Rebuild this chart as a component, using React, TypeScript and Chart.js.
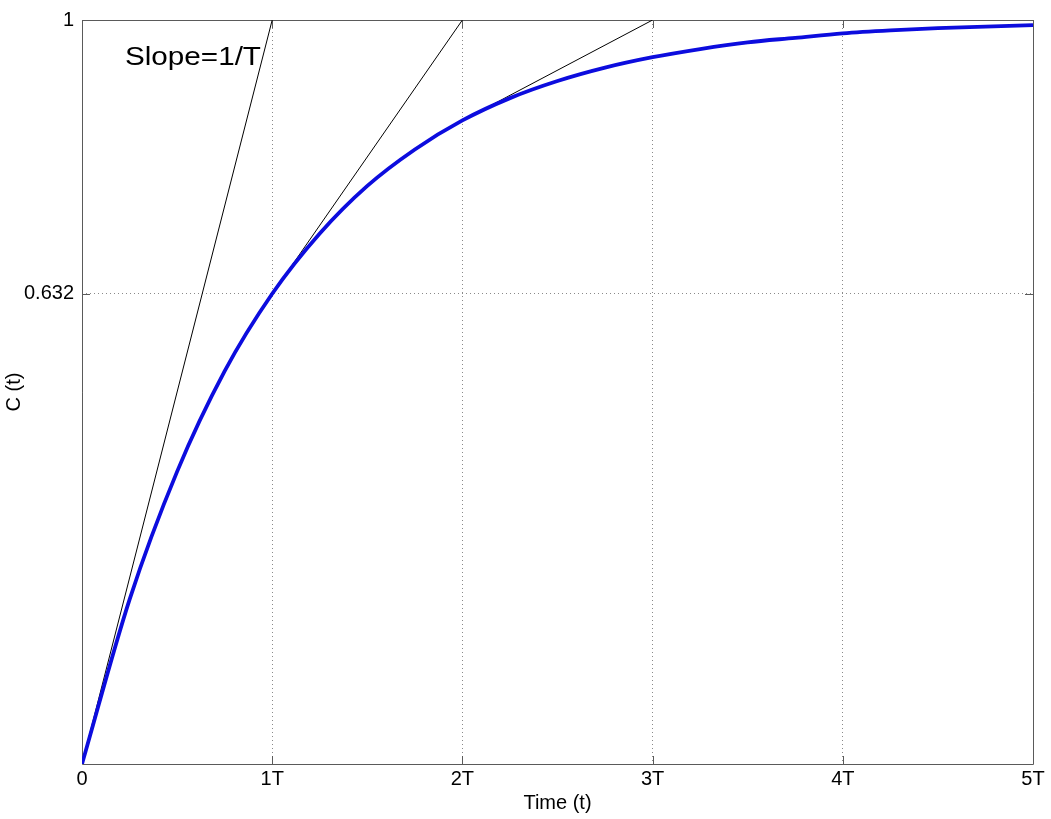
import React, { useEffect, useRef } from "react";
import { Chart, registerables } from "chart.js";

Chart.register(...registerables);

// Step response C(t), t in units of T
const timeT = [0, 0.25, 0.5, 0.75, 1, 1.25, 1.5, 1.75, 2, 2.25, 2.5, 2.75, 3, 3.25, 3.5, 3.75, 4, 4.25, 4.5, 4.75, 5];
const response = [0, 0.221, 0.393, 0.528, 0.632, 0.713, 0.777, 0.826, 0.865, 0.895, 0.918, 0.936, 0.95, 0.961, 0.97, 0.976, 0.982, 0.986, 0.989, 0.991, 0.993];

// Tangent lines (start and end points)
const tangent1X = [0, 1];
const tangent1Y = [0, 1];
const tangent2X = [1, 2];
const tangent2Y = [0.632, 1];
const tangent3X = [2, 3];
const tangent3Y = [0.865, 1];

const xTickValues = [0, 1, 2, 3, 4, 5];
const xTickLabels = ["0", "1T", "2T", "3T", "4T", "5T"];
const yTickValues = [0.632, 1];
const yTickLabels = ["0.632", "1"];

const annotationText = "Slope=1/T";
const annotationX = 0.226;
const annotationY = 0.94;

const FONT = "'Liberation Sans', Arial, Helvetica, sans-serif";

const zip = (xs: number[], ys: number[]) => xs.map((x, i) => ({ x, y: ys[i] }));

const boxPlugin = {
  id: "boxPlugin",
  beforeDatasetsDraw(chart: any) {
    const { ctx, chartArea: a, scales } = chart;
    const tickLen = 8;
    ctx.save();
    ctx.strokeStyle = "#5a5a5a";
    ctx.lineWidth = 1;
    ctx.beginPath();
    ctx.rect(Math.round(a.left) + 0.5, Math.round(a.top) + 0.5, Math.round(a.right - a.left), Math.round(a.bottom - a.top));
    ctx.stroke();
    ctx.beginPath();
    xTickValues.forEach((v) => {
      const px = Math.round(scales.x.getPixelForValue(v)) + 0.5;
      ctx.moveTo(px, a.bottom);
      ctx.lineTo(px, a.bottom - tickLen);
      ctx.moveTo(px, a.top);
      ctx.lineTo(px, a.top + tickLen);
    });
    yTickValues.forEach((v) => {
      const py = Math.round(scales.y.getPixelForValue(v)) + 0.5;
      ctx.moveTo(a.left, py);
      ctx.lineTo(a.left + tickLen, py);
      ctx.moveTo(a.right, py);
      ctx.lineTo(a.right - tickLen, py);
    });
    ctx.stroke();
    ctx.restore();
  },
  afterDatasetsDraw(chart: any) {
    const { ctx, scales } = chart;
    const px = scales.x.getPixelForValue(annotationX);
    const py = scales.y.getPixelForValue(annotationY);
    ctx.save();
    ctx.font = `25px ${FONT}`;
    ctx.fillStyle = "#000";
    ctx.textBaseline = "alphabetic";
    ctx.textAlign = "left";
    const w = ctx.measureText(annotationText).width;
    const target = 136;
    ctx.translate(px, py);
    ctx.scale(target / w, 1);
    ctx.fillText(annotationText, 0, 0);
    ctx.restore();
  },
};

export default function App() {
  const ref = useRef<HTMLCanvasElement | null>(null);

  useEffect(() => {
    if (!ref.current) return;
    const chart = new Chart(ref.current, {
      type: "line",
      data: {
        datasets: [
          {
            label: "C(t)",
            data: zip(timeT, response),
            borderColor: "rgb(12,12,222)",
            borderWidth: 3.8,
            pointRadius: 0,
            cubicInterpolationMode: "monotone",
            fill: false,
            order: 0,
          },
          {
            label: "tangent 1",
            data: zip(tangent1X, tangent1Y),
            borderColor: "#000",
            borderWidth: 1,
            pointRadius: 0,
            fill: false,
            order: 1,
          },
          {
            label: "tangent 2",
            data: zip(tangent2X, tangent2Y),
            borderColor: "#000",
            borderWidth: 1,
            pointRadius: 0,
            fill: false,
            order: 1,
          },
          {
            label: "tangent 3",
            data: zip(tangent3X, tangent3Y),
            borderColor: "#000",
            borderWidth: 1,
            pointRadius: 0,
            fill: false,
            order: 1,
          },
        ],
      },
      options: {
        animation: false,
        responsive: false,
        maintainAspectRatio: false,
        layout: { padding: { top: 16, right: 18, left: 0, bottom: 0 } },
        plugins: {
          legend: { display: false },
          tooltip: { enabled: false },
        },
        scales: {
          x: {
            type: "linear",
            min: 0,
            max: 5,
            afterBuildTicks: (scale: any) => {
              scale.ticks = xTickValues.map((value) => ({ value }));
            },
            afterFit: (scale: any) => {
              scale.height = 55;
            },
            ticks: {
              autoSkip: false,
              maxRotation: 0,
              padding: 3,
              color: "#000",
              font: { family: FONT, size: 20 },
              callback: (v: any) => xTickLabels[xTickValues.indexOf(Number(v))] ?? "",
            },
            grid: {
              color: "#8a8a8a",
              lineWidth: 1,
              drawTicks: false,
            },
            border: { display: false, dash: [1, 3] },
            title: {
              display: true,
              text: "Time (t)",
              color: "#000",
              font: { family: FONT, size: 20 },
              padding: { top: 0, bottom: 4 },
            },
          },
          y: {
            type: "linear",
            min: 0,
            max: 1,
            afterBuildTicks: (scale: any) => {
              scale.ticks = yTickValues.map((value) => ({ value }));
            },
            afterFit: (scale: any) => {
              scale.width = 82;
            },
            ticks: {
              autoSkip: false,
              padding: 8,
              color: "#000",
              font: { family: FONT, size: 20 },
              callback: (v: any) => yTickLabels[yTickValues.indexOf(Number(v))] ?? "",
            },
            grid: {
              color: "#8a8a8a",
              lineWidth: 1,
              drawTicks: false,
            },
            border: { display: false, dash: [1, 3] },
            title: {
              display: true,
              text: "C (t)",
              color: "#000",
              font: { family: FONT, size: 20 },
              padding: { top: 2, bottom: 0 },
            },
          },
        },
      },
      plugins: [boxPlugin],
    } as any);
    return () => chart.destroy();
  }, []);

  return (
    <div style={{ position: "fixed", left: 0, top: 0, width: 1051, height: 819, background: "#fff" }}>
      <canvas ref={ref} width={1051} height={819} style={{ display: "block", width: 1051, height: 819 }} />
    </div>
  );
}
